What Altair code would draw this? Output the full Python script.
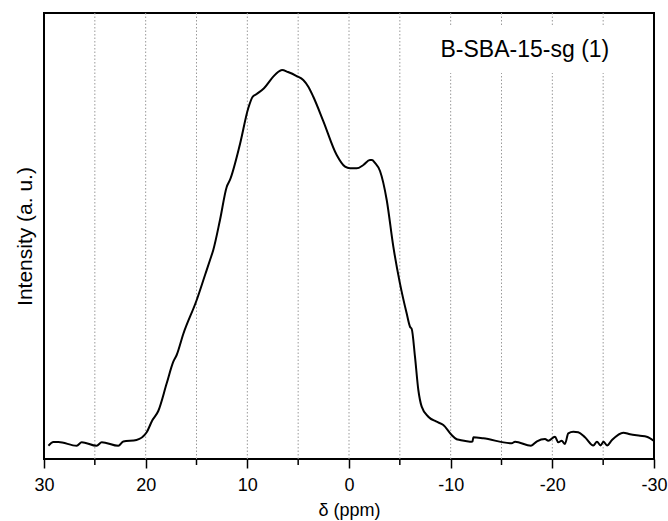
import altair as alt
import pandas as pd

# chemical shift (ppm) and intensity (a.u., 0-100 scale)
ppm = [29.56, 29.07, 28.59, 26.78, 26.29, 24.82, 24.32, 22.69, 22.20, 20.90,
       19.90, 19.38, 18.76, 17.93, 17.28, 16.95, 16.30, 14.98, 14.16, 13.67,
       13.35, 12.69, 12.03, 11.71, 10.72, 9.91, 9.49, 9.08, 8.36, 7.45,
       6.98, 6.59, 6.00, 5.15, 4.50, 4.00, 3.51, 2.53, 1.21, 0.39,
       -0.10, -0.76, -1.41, -2.06, -2.26, -2.56, -3.05, -3.71, -4.36, -5.01,
       -5.67, -6.00, -6.17, -6.49, -6.82, -7.15, -7.80, -8.56, -9.28, -10.10,
       -10.59, -10.92, -11.90, -12.15, -12.23, -13.21, -16.00, -16.33, -17.90, -18.49,
       -19.28, -19.60, -20.26, -20.59, -20.92, -21.24, -21.57, -22.06, -22.55, -23.21,
       -24.03, -24.39, -24.74, -25.03, -25.38, -25.87, -26.98, -27.64, -28.63, -29.28,
       -30.00]
intensity = [2.98, 3.81, 3.81, 2.96, 3.77, 2.96, 3.77, 2.96, 3.92, 4.26,
             5.99, 8.52, 10.76, 16.97, 21.82, 23.32, 28.03, 35.65, 41.26, 44.62,
             46.86, 53.59, 60.99, 62.56, 70.63, 78.63, 81.17, 81.84, 83.12, 85.72,
             86.77, 87.22, 86.77, 85.87, 84.98, 83.48, 81.23, 75.78, 68.16, 65.54,
             65.18, 65.18, 65.92, 67.04, 67.04, 66.37, 64.57, 58.07, 47.60, 39.39,
             32.67, 29.66, 29.15, 22.94, 15.47, 11.73, 9.48, 8.41, 7.62, 5.38,
             4.42, 4.26, 3.88, 3.92, 4.87, 4.64, 3.52, 3.88, 2.98, 3.97,
             4.48, 4.10, 5.00, 3.74, 4.10, 3.36, 5.76, 6.12, 5.99, 4.87,
             3.03, 3.88, 3.03, 3.88, 3.03, 4.26, 5.90, 5.54, 5.22, 5.00,
             4.04]

major_ticks = [30, 20, 10, 0, -10, -20, -30]
minor_ticks = [25, 15, 5, -5, -15, -25]
grid_ppm = [25, 20, 15, 10, 5, 0, -5, -10, -15, -20, -25]
label_text = ["B-SBA-15-sg (1)"]
label_ppm = [-17.3]
label_box = [-8.3, -26.2]

FONT = "Liberation Sans"
XTITLE = "δ (ppm)"
xscale = alt.Scale(domain=[30, -30], nice=False, zero=False)
yscale = alt.Scale(domain=[0, 100], nice=False, zero=False)

spec = pd.DataFrame({"ppm": ppm, "intensity": intensity})
grid = pd.DataFrame({"ppm": grid_ppm})
minor = pd.DataFrame({"ppm": minor_ticks})
box = pd.DataFrame({"ppm": [label_box[0]], "ppm2": [label_box[1]]})
lab = pd.DataFrame({"ppm": label_ppm, "text": label_text})

xaxis = alt.Axis(values=major_ticks, grid=False, domain=False, tickSize=9,
                 tickColor="black", tickWidth=1.5, labelFontSize=18,
                 labelFont=FONT, labelColor="black", labelPadding=8,
                 labelExpr="'' + datum.value",
                 titleFont=FONT, titleFontSize=18, titleFontWeight="normal",
                 titleColor="black", titlePadding=7, labelFlush=False)
yaxis = alt.Axis(labels=False, ticks=False, grid=False, domain=False,
                 titleFont=FONT, titleFontSize=21, titleFontWeight="normal",
                 titleColor="black", titlePadding=9)


def xenc():
    return alt.X("ppm:Q", scale=xscale, axis=xaxis, title=XTITLE)


gridlines = alt.Chart(grid).mark_rule(color="#9a9a9a", strokeWidth=1,
                                      strokeDash=[1.5, 2]).encode(x=xenc())

minor_rules = alt.Chart(minor).mark_rule(color="black", strokeWidth=1.5).encode(
    x=xenc(),
    y=alt.value(446),
    y2=alt.value(452),
)

boxrect = alt.Chart(box).mark_rect(color="white").encode(
    x=xenc(),
    x2="ppm2:Q",
    y=alt.value(14),
    y2=alt.value(60),
)

labtext = alt.Chart(lab).mark_text(font=FONT, fontSize=23, color="black",
                                   align="center", baseline="middle").encode(
    x=xenc(),
    y=alt.value(37),
    text="text:N",
)

line = alt.Chart(spec).mark_line(color="black", strokeWidth=2,
                                 interpolate="monotone").encode(
    x=xenc(),
    y=alt.Y("intensity:Q", scale=yscale, axis=yaxis, title="Intensity (a. u.)"),
    order="index:Q",
).transform_window(index="row_number()")

chart = alt.layer(gridlines, boxrect, labtext, minor_rules, line).properties(
    width=610, height=446,
    autosize=alt.AutoSizeParams(type="none"),
    padding={"left": 44, "top": 13, "right": 14, "bottom": 62},
    background="white",
).configure_view(stroke="black", strokeWidth=2)

chart.save("out.html", embed_options={"renderer": "svg", "actions": False})
